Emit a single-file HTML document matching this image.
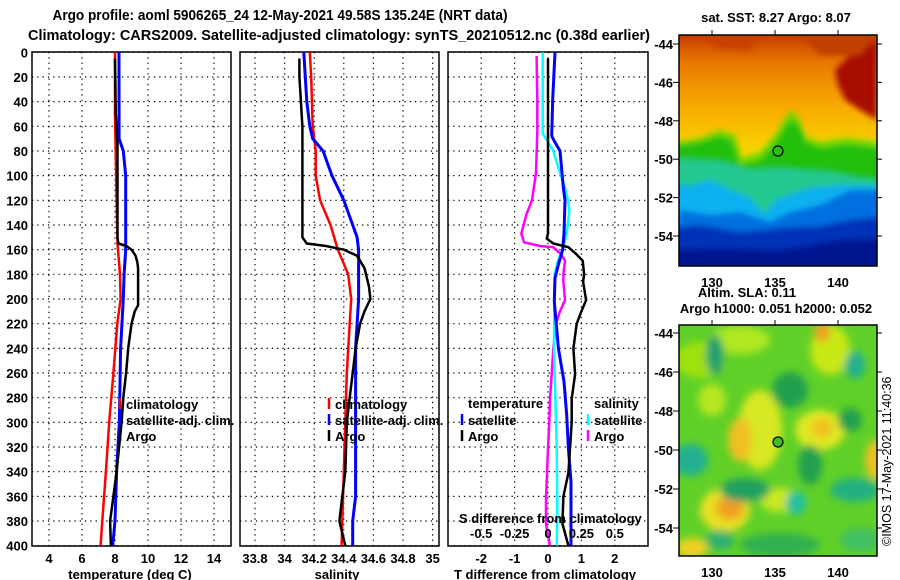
<!DOCTYPE html>
<html><head><meta charset="utf-8"><style>
html,body{margin:0;padding:0;background:#fff;}
svg{display:block;font-family:"Liberation Sans",sans-serif;font-weight:bold;}
</style></head><body>
<svg id="chart" width="900" height="580" viewBox="0 0 900 580">
<defs>
<filter id="blur1" x="-20%" y="-20%" width="140%" height="140%"><feGaussianBlur stdDeviation="3"/></filter>
<filter id="blur2" x="-50%" y="-50%" width="200%" height="200%"><feGaussianBlur stdDeviation="4"/></filter>
<linearGradient id="sstTop" x1="0" y1="0" x2="0" y2="1">
<stop offset="0" stop-color="#c83c00"/><stop offset="0.12" stop-color="#e87800"/><stop offset="0.3" stop-color="#f8a800"/><stop offset="0.5" stop-color="#f8d400"/><stop offset="0.7" stop-color="#e8f000"/><stop offset="1" stop-color="#b8f000"/>
</linearGradient>
<clipPath id="clipMap1"><rect x="679" y="35" width="198" height="231"/></clipPath>
<clipPath id="clipMap2"><rect x="679" y="325" width="198" height="231"/></clipPath>
</defs>
<g id="titles">
<text x="280" y="20" text-anchor="middle" font-size="14.5" textLength="455" lengthAdjust="spacingAndGlyphs">Argo profile: aoml 5906265_24 12-May-2021 49.58S 135.24E (NRT data)</text>
<text x="28" y="40" font-size="14.5" textLength="622" lengthAdjust="spacingAndGlyphs">Climatology: CARS2009. Satellite-adjusted climatology: synTS_20210512.nc (0.38d earlier)</text>
</g>
<g id="panels"></g>
<g id="maps">
<g clip-path="url(#clipMap1)">
<rect x="679" y="35" width="198" height="231" fill="url(#sstTop)"/>
<g filter="url(#blur1)">
<polygon points="835,70 850,55 877,40 877,120 860,110 845,100 838,85" fill="#a81000"/>
<polygon points="700,35 760,35 750,50 720,48" fill="#c84000"/>
<polygon points="800,35 877,35 860,55 820,55" fill="#c04000"/>
<polygon points="660,145 700,138 720,130 735,135 742,158 760,152 775,135 785,118 792,110 800,120 805,137 820,142 845,138 865,140 900,145 900,300 660,300" fill="#70d800"/>
<polygon points="660,148 700,142 720,136 732,140 740,165 760,160 776,142 786,125 793,120 800,128 806,142 822,148 845,144 865,146 900,152 900,300 660,300" fill="#20c010"/>
<polygon points="660,158 700,160 725,162 750,170 780,168 800,170 830,172 860,178 900,182 900,300 660,300" fill="#20c890"/>
<polygon points="660,182 690,186 710,180 730,190 750,198 765,215 775,200 790,195 810,188 840,185 900,186 900,300 660,300" fill="#10b0f0"/>
<polygon points="680,210 710,215 740,212 770,222 790,212 820,205 850,190 900,190 900,300 660,300" fill="#0070e0"/>
<polygon points="660,228 700,225 740,232 780,228 820,226 850,220 900,215 900,300 660,300" fill="#0030b8"/>
<polygon points="660,250 720,248 780,250 840,240 900,238 900,300 660,300" fill="#001890"/>
</g>
</g>
<rect x="679" y="35" width="198" height="231" fill="none" stroke="#000" stroke-width="1.5"/>
<g clip-path="url(#clipMap2)">
<rect x="679" y="325" width="198" height="231" fill="#60d028"/>
<g filter="url(#blur2)">
<ellipse cx="700" cy="360" rx="25" ry="18" fill="#a0e010"/>
<ellipse cx="740" cy="340" rx="30" ry="14" fill="#b0e820"/>
<ellipse cx="830" cy="350" rx="20" ry="25" fill="#c8e818"/>
<ellipse cx="822" cy="332" rx="8" ry="10" fill="#f0a020"/>
<ellipse cx="760" cy="430" rx="22" ry="40" fill="#d8e820"/>
<ellipse cx="740" cy="440" rx="12" ry="22" fill="#f0c020"/>
<ellipse cx="820" cy="430" rx="25" ry="20" fill="#e0e820"/>
<ellipse cx="822" cy="428" rx="10" ry="10" fill="#f0c020"/>
<ellipse cx="725" cy="510" rx="25" ry="22" fill="#e8e020"/>
<ellipse cx="730" cy="508" rx="14" ry="12" fill="#f0a020"/>
<ellipse cx="692" cy="548" rx="16" ry="10" fill="#f0d020"/>
<ellipse cx="877" cy="460" rx="12" ry="20" fill="#f0c020"/>
<ellipse cx="780" cy="500" rx="20" ry="12" fill="#c8e820"/>
<ellipse cx="712" cy="400" rx="14" ry="16" fill="#b8e820"/>
<ellipse cx="715" cy="355" rx="9" ry="20" fill="#20a070"/>
<ellipse cx="790" cy="390" rx="18" ry="18" fill="#20a050"/>
<ellipse cx="690" cy="460" rx="18" ry="16" fill="#20b090"/>
<ellipse cx="745" cy="490" rx="25" ry="12" fill="#20a060"/>
<ellipse cx="796" cy="503" rx="10" ry="12" fill="#20c0a0"/>
<ellipse cx="810" cy="465" rx="12" ry="20" fill="#20a050"/>
<ellipse cx="855" cy="365" rx="10" ry="14" fill="#20b090"/>
<ellipse cx="850" cy="420" rx="12" ry="12" fill="#20a050"/>
<ellipse cx="855" cy="490" rx="25" ry="12" fill="#20b080"/>
<ellipse cx="780" cy="545" rx="40" ry="12" fill="#30b050"/>
<ellipse cx="720" cy="540" rx="14" ry="10" fill="#30b070"/>
<ellipse cx="860" cy="540" rx="20" ry="12" fill="#40c060"/>
</g>
</g>
<rect x="679" y="325" width="198" height="231" fill="none" stroke="#000" stroke-width="1.5"/>
<circle cx="778" cy="151" r="5" fill="none" stroke="#000" stroke-width="1.2"/>
<circle cx="778" cy="442" r="5" fill="#40c020" stroke="#000" stroke-width="1.2"/>
<text x="776" y="22" text-anchor="middle" font-size="13">sat. SST: 8.27 Argo: 8.07</text>
<text x="747" y="297" text-anchor="middle" font-size="13">Altim. SLA: 0.11</text>
<text x="776" y="313" text-anchor="middle" font-size="13">Argo h1000: 0.051 h2000: 0.052</text>
<text transform="translate(891,546) rotate(-90)" font-size="12.5" font-weight="normal">©IMOS 17-May-2021 11:40:36</text>
</g>
</svg>
<script>
// ---- data ----
const depthTicks = [0,20,40,60,80,100,120,140,160,180,200,220,240,260,280,300,320,340,360,380,400];
const tempTicks = [4,6,8,10,12,14];
const salTicks = [33.8,34,34.2,34.4,34.6,34.8,35];
const salTickLabels = ["33.8","34","34.2","34.4","34.6","34.8","35"];
const tdiffTicks = [-2,-1,0,1,2];
const sdiffTicks = [-0.5,-0.25,0,0.25,0.5];
const sdiffTickLabels = ["-0.5","-0.25","0","0.25","0.5"];
const mapLats = [-44,-46,-48,-50,-52,-54];
const mapLons = [130,135,140];

const argoTDepth = [5,50,75,150,155,157,160,165,170,175,205,210,220,240,260,280,300,320,340,360,380,400];
const argoTValue = [8.0,8.05,8.15,8.15,8.2,8.7,9.0,9.25,9.35,9.4,9.4,9.2,9.0,8.8,8.67,8.5,8.4,8.25,8.1,7.9,7.7,7.75];
const satTDepth = [0,70,80,100,160,180,200,240,300,340,380,400];
const satTValue = [8.24,8.25,8.5,8.65,8.65,8.55,8.5,8.34,8.26,8.1,8.0,7.86];
const climTDepth = [0,50,120,155,180,200,220,260,300,340,380,400];
const climTValue = [8.0,8.0,8.1,8.15,8.3,8.34,8.14,7.9,7.65,7.45,7.23,7.13];

const argoSDepth = [5,20,40,60,150,155,157,160,165,175,190,200,210,220,240,260,280,300,340,360,380,400];
const argoSValue = [34.10,34.10,34.11,34.12,34.12,34.15,34.28,34.40,34.49,34.54,34.57,34.58,34.54,34.51,34.48,34.46,34.44,34.42,34.41,34.39,34.37,34.41];
const satSDepth = [0,40,60,70,80,100,120,140,150,160,200,240,300,360,380,400];
const satSValue = [34.13,34.15,34.17,34.19,34.26,34.32,34.40,34.46,34.49,34.50,34.50,34.48,34.48,34.48,34.46,34.46];
const climSDepth = [0,20,60,80,100,120,140,160,180,200,220,260,300,340,380,400];
const climSValue = [34.17,34.18,34.19,34.21,34.21,34.24,34.31,34.36,34.43,34.45,34.44,34.42,34.41,34.40,34.39,34.385];

const argoTdDepth = [5,147,151,155,158,164,169,180,186,201,210,220,240,261,281,300,321,341,360,382,400];
const argoTdValue = [0.0,0.0,-0.04,0.16,0.61,0.86,1.04,1.08,1.05,1.14,1.0,0.86,0.76,0.81,0.71,0.71,0.66,0.61,0.46,0.43,0.61];
const satTdDepth = [0,38,68,73,80,110,120,147,160,172,183,202,240,267,294,321,348,400];
const satTdValue = [0.21,0.14,0.11,0.21,0.36,0.46,0.51,0.48,0.44,0.31,0.21,0.19,0.31,0.48,0.56,0.61,0.69,0.69];
const satSdDepth = [0,66,71,80,96,110,120,128,147,160,168,180,202,240,267,321,375,400];
const satSdValue = [-0.04,-0.04,-0.01,0.04,0.085,0.127,0.15,0.16,0.14,0.11,0.077,0.05,0.047,0.045,0.052,0.065,0.07,0.065];
const argoSdDepth = [3,38,65,98,120,131,147,154,157,158,164,169,180,186,201,210,220,240,261,281,300,321,348,362,382,400];
const argoSdValue = [-0.085,-0.08,-0.08,-0.09,-0.12,-0.16,-0.2,-0.18,-0.06,0.04,0.10,0.127,0.115,0.115,0.127,0.09,0.06,0.04,0.028,0.015,0.01,0.0,-0.01,-0.015,-0.015,0.015];

// ---- scales ----
const NS = "http://www.w3.org/2000/svg";
const yD = d => 52.3 + d * 1.2335;
const xT = t => 49 + (t - 4) * 16.5;
const xS = s => 255 + (s - 33.8) * 148;
const xTd = v => 548 + v * 33.4;
const xSd = v => 548 + v * 133.6;
const TOP = 52, BOT = 546;
const root = document.getElementById('panels');

function mk(tag, attrs, parent) {
  const el = document.createElementNS(NS, tag);
  for (const k in attrs) el.setAttribute(k, attrs[k]);
  (parent || root).appendChild(el);
  return el;
}
function txt(x, y, s, anchor, size, parent) {
  const t = mk('text', {x: x, y: y, 'text-anchor': anchor, 'font-size': size}, parent);
  t.textContent = s;
  return t;
}

function panel(name, x0, x1, xticks, xfn, xlabels, xtitle, xtitleX) {
  const g = mk('g', {});
  
  
  depthTicks.forEach(d => {
    const l = mk('line', {x1: x0, x2: x1, y1: yD(d), y2: yD(d), stroke: '#000', 'stroke-width': 1.2, 'stroke-dasharray': '1.3,4'}, g);
    
    
  });
  xticks.forEach((v, i) => {
    const X = xfn(v);
    const l = mk('line', {x1: X, x2: X, y1: TOP, y2: BOT, stroke: '#000', 'stroke-width': 1.2, 'stroke-dasharray': '1.3,4'}, g);
    
    
    const t = txt(X, 563, xlabels[i], 'middle', 13, g);
    
    
  });
  const r = mk('rect', {x: x0, y: TOP, width: x1 - x0, height: BOT - TOP, fill: 'none', stroke: '#000', 'stroke-width': 1.5}, g);
  
  
  const tt = txt(xtitleX, 579, xtitle, 'middle', 13, g);
  
  
  return g;
}

function series(g, name, depths, vals, xfn, color, w) {
  const pts = depths.map((d, i) => xfn(vals[i]).toFixed(1) + ',' + yD(d).toFixed(1)).join(' ');
  const p = mk('polyline', {points: pts, fill: 'none', stroke: color, 'stroke-width': w, 'stroke-linejoin': 'round'}, g);
  
  
}

function legend(g, name, x, y, color, label) {
  const l = mk('line', {x1: x, x2: x, y1: y - 11, y2: y, stroke: color, 'stroke-width': 2.5}, g);
  
  
  const t = txt(x + 6, y, label, 'start', 13, g);
  
  
}

// depth labels
depthTicks.forEach(d => {
  const t = txt(28, yD(d) + 5, String(d), 'end', 13);
  
  
});

// panel 1: temperature
const g1 = panel('temperature-panel', 32, 231, tempTicks, xT, tempTicks.map(String), 'temperature (deg C)', 130);
series(g1, 'temperature-climatology-line', climTDepth, climTValue, xT, '#ff0000', 2.5);
series(g1, 'temperature-satellite-line', satTDepth, satTValue, xT, '#0000ff', 3);
series(g1, 'temperature-argo-line', argoTDepth, argoTValue, xT, '#000', 2.5);
legend(g1, 'legend-climatology', 120, 409, '#ff0000', 'climatology');
legend(g1, 'legend-satellite-adj', 120, 425, '#0000ff', 'satellite-adj. clim.');
legend(g1, 'legend-argo', 120, 441, '#000', 'Argo');

// panel 2: salinity
const g2 = panel('salinity-panel', 240, 439, salTicks, xS, salTickLabels, 'salinity', 337);
series(g2, 'salinity-climatology-line', climSDepth, climSValue, xS, '#ff0000', 2.5);
series(g2, 'salinity-satellite-line', satSDepth, satSValue, xS, '#0000ff', 3);
series(g2, 'salinity-argo-line', argoSDepth, argoSValue, xS, '#000', 2.5);
legend(g2, 'legend-climatology', 329, 409, '#ff0000', 'climatology');
legend(g2, 'legend-satellite-adj', 329, 425, '#0000ff', 'satellite-adj. clim.');
legend(g2, 'legend-argo', 329, 441, '#000', 'Argo');

// panel 3: differences
const g3 = panel('difference-panel', 448, 648, tdiffTicks, xTd, tdiffTicks.map(String), 'T difference from climatology', 545);
series(g3, 'salinity-argo-diff-line', argoSdDepth, argoSdValue, xSd, '#ff00ff', 2.5);
series(g3, 'salinity-satellite-diff-line', satSdDepth, satSdValue, xSd, '#00ffff', 2.5);
series(g3, 'temperature-satellite-diff-line', satTdDepth, satTdValue, xTd, '#0000ff', 3);
series(g3, 'temperature-argo-diff-line', argoTdDepth, argoTdValue, xTd, '#000', 2.5);
sdiffTicks.forEach((v, i) => {
  const t = txt(xSd(v), 538, sdiffTickLabels[i], 'middle', 13, g3);
  
  
});
const st = txt(459, 523, 'S difference from climatology', 'start', 13, g3);


const lt1 = txt(468, 408, 'temperature', 'start', 13, g3);


const lt2 = txt(594, 408, 'salinity', 'start', 13, g3);


legend(g3, 'legend-t-satellite', 462, 425, '#0000ff', 'satellite');
legend(g3, 'legend-t-argo', 462, 441, '#000', 'Argo');
legend(g3, 'legend-s-satellite', 588, 425, '#00ffff', 'satellite');
legend(g3, 'legend-s-argo', 588, 441, '#ff00ff', 'Argo');

// map axes
const maps = document.getElementById('maps');
function mapAxes(top, bottom, lat44y, perDeg, labelY, name) {
  const g = mk('g', {}, maps);
  
  
  mapLats.forEach(la => {
    const Y = lat44y + (-44 - la) * perDeg;
    mk('line', {x1: 673, x2: 679, y1: Y, y2: Y, stroke: '#000', 'stroke-width': 1}, g);
    mk('line', {x1: 877, x2: 882, y1: Y, y2: Y, stroke: '#000', 'stroke-width': 1}, g);
    const t = txt(673, Y + 5, String(la), 'end', 13, g);
    
    
  });
  mapLons.forEach(lo => {
    const X = 712 + (lo - 130) * 12.6;
    mk('line', {x1: X, x2: X, y1: top - 5, y2: top, stroke: '#000', 'stroke-width': 1}, g);
    const t = txt(X, labelY, String(lo), 'middle', 13, g);
    
    
  });
}
mapAxes(35, 266, 44, 19.2, 287, 'sst-map-axes');
mapAxes(325, 556, 333, 19.5, 577, 'sla-map-axes');
</script>
</body></html>
